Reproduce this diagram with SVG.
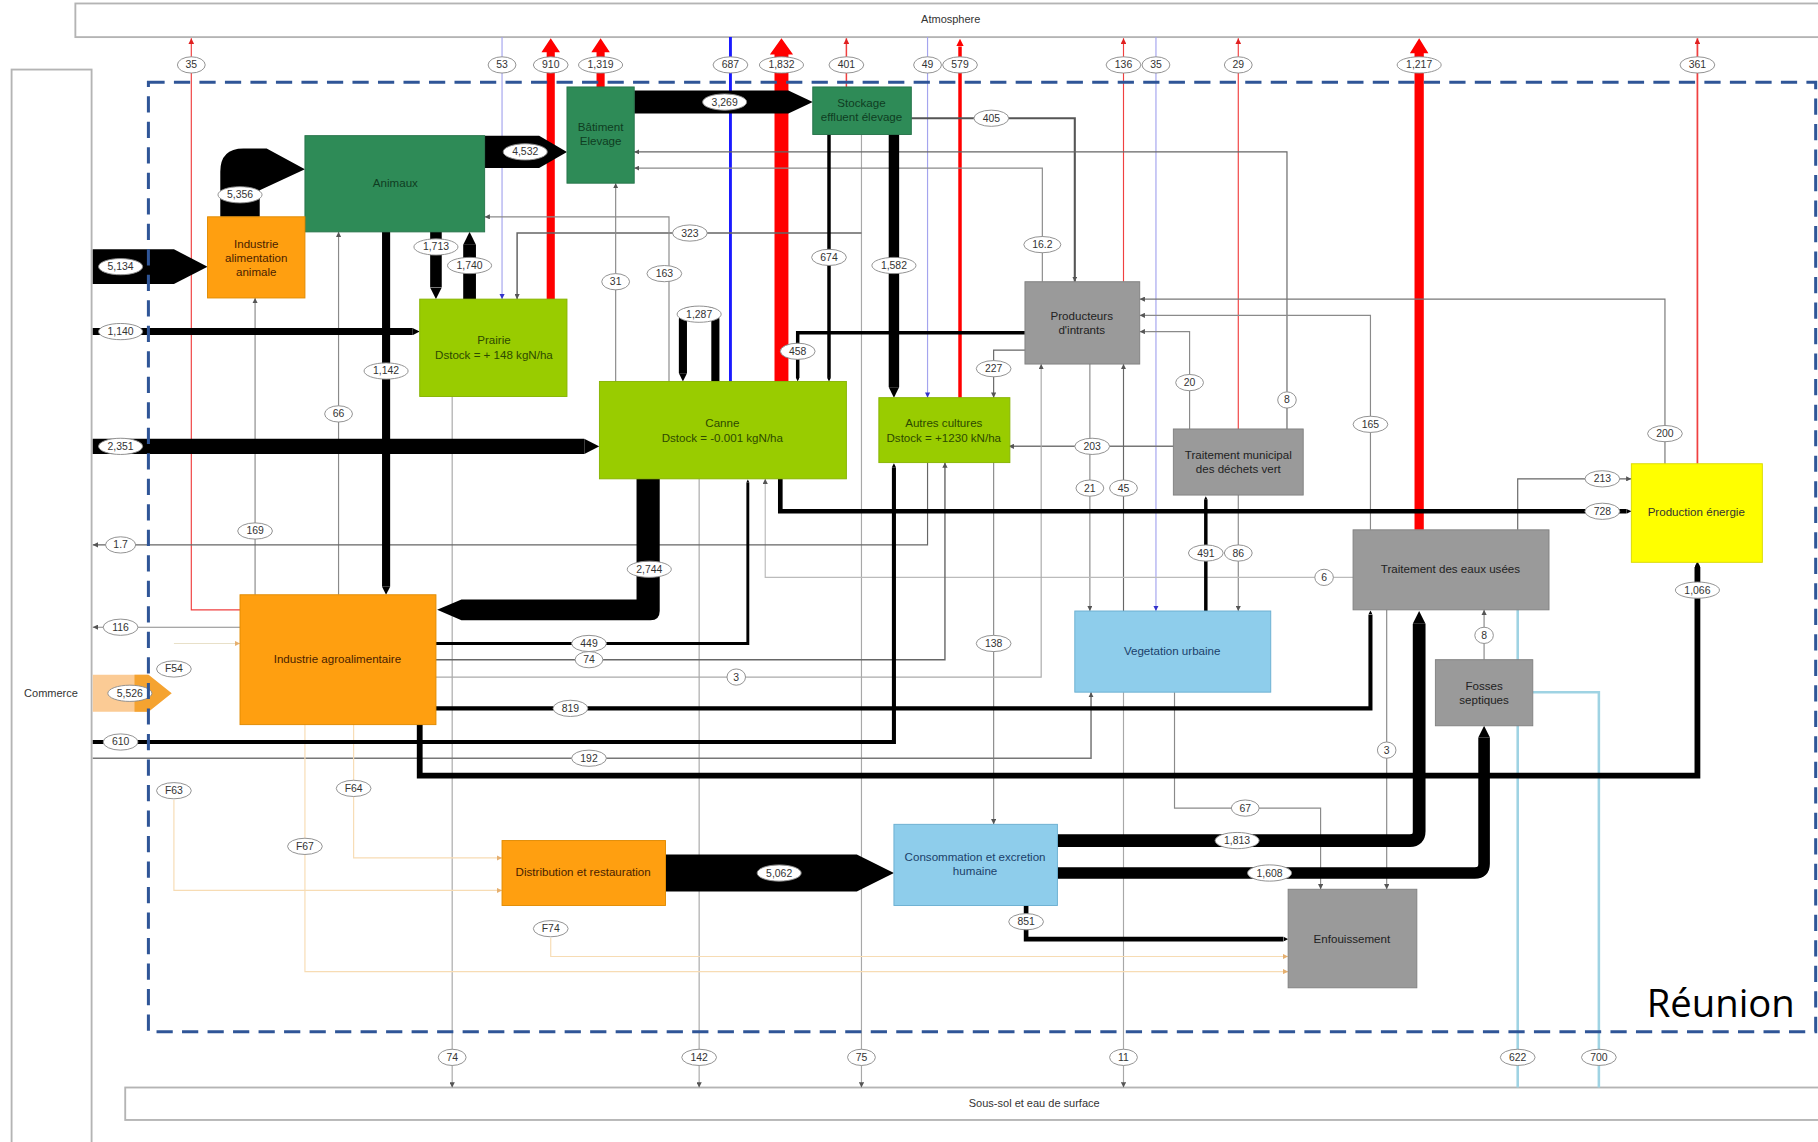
<svg xmlns="http://www.w3.org/2000/svg" width="1818" height="1142" viewBox="0 0 1818 1142">
<style>
.fr{fill:#fff;stroke:#b4b4b4;stroke-width:1.6}
.ft{font:9.5px "Liberation Sans",Arial,sans-serif;text-anchor:middle;fill:#333}
.nd text{font:10px "Liberation Sans",Arial,sans-serif;text-anchor:middle}
.dg rect{fill:#2E8B57;stroke:#26734a;stroke-width:.8}.dg text{fill:#0f3d22}
.lg rect{fill:#99CC00;stroke:#86b300;stroke-width:.8}.lg text{fill:#2d4a00}
.or rect{fill:#FF9F10;stroke:#e08a00;stroke-width:.8}.or text{fill:#4a2200}
.gy rect{fill:#9a9a9a;stroke:#808080;stroke-width:.8}.gy text{fill:#222}
.lb1 rect{fill:#8ECDEB;stroke:#6aaed0;stroke-width:.8}.lb1 text{fill:#1b3f6a}
.ye rect{fill:#FFFF00;stroke:#d9d900;stroke-width:.8}.ye text{fill:#333}
.th{fill:none;stroke:#8a8a8a;stroke-width:1;marker-end:url(#ag)}
.td{fill:none;stroke:#555;stroke-width:1.4;marker-end:url(#ag)}
.bk{fill:none;stroke:#000;marker-end:url(#tp)}
.rt{fill:none;stroke:#f04040;stroke-width:1;marker-end:url(#ar)}
.lv{fill:none;stroke:#a4a4ee;stroke-width:1;marker-end:url(#al)}
.ss{fill:none;stroke:#a8a8a8;stroke-width:1;marker-end:url(#ag)}
.lbw{fill:none;stroke:#9fd3e3;stroke-width:2.2}
.oy{fill:none;stroke:#f7dcb4;stroke-width:1;marker-end:url(#ao)}
.lb ellipse{fill:#fff;stroke:#8a8a8a;stroke-width:.8}
.lb text{font:9px "Liberation Sans",Arial,sans-serif;text-anchor:middle;fill:#333}
</style>
<defs>
<marker id="tp" viewBox="0 0 10 10" refX="0" refY="5" markerWidth="1" markerHeight="1" orient="auto" markerUnits="strokeWidth"><path d="M0,0L10,5L0,10z" fill="#000"/></marker>
<marker id="ag" viewBox="0 0 10 10" refX="10" refY="5" markerWidth="4.5" markerHeight="4.5" orient="auto" markerUnits="userSpaceOnUse"><path d="M0,0L10,5L0,10z" fill="#555"/></marker>
<marker id="ar" viewBox="0 0 10 10" refX="10" refY="5" markerWidth="5" markerHeight="5" orient="auto" markerUnits="userSpaceOnUse"><path d="M0,0L10,5L0,10z" fill="#e02020"/></marker>
<marker id="al" viewBox="0 0 10 10" refX="10" refY="5" markerWidth="4.5" markerHeight="4.5" orient="auto" markerUnits="userSpaceOnUse"><path d="M0,0L10,5L0,10z" fill="#3333cc"/></marker>
<marker id="ao" viewBox="0 0 10 10" refX="10" refY="5" markerWidth="4.5" markerHeight="4.5" orient="auto" markerUnits="userSpaceOnUse"><path d="M0,0L10,5L0,10z" fill="#e6b070"/></marker>
<marker id="tr" viewBox="0 0 10 10" refX="0" refY="5" markerWidth="2.2" markerHeight="2.2" orient="auto" markerUnits="strokeWidth"><path d="M0,0L10,5L0,10z" fill="#f00"/></marker>
</defs>
<rect width="1818" height="1142" fill="#fff"/>
<g transform="scale(1.15944,1.15939)">
<g id="frames">
<rect class="fr" x="65" y="3" width="1520" height="29"/>
<text class="ft" x="820" y="20">Atmosphere</text>
<rect class="fr" x="10" y="60" width="69" height="940"/>
<text class="ft" x="44" y="601">Commerce</text>
<rect class="fr" x="108" y="938" width="1480" height="28"/>
<text class="ft" x="892" y="955">Sous-sol et eau de surface</text>
</g>
<g id="connectors">
<path class="rt" d="M207,526H165V33"/>
<path class="rt" d="M730,75V33" style="stroke-width:1.3"/>
<path class="rt" d="M969,243V33"/>
<path class="rt" d="M1068,370V33"/>
<path class="rt" d="M1464,400V33" style="stroke-width:1.5"/>
<path d="M828,343V40" fill="none" stroke="#f00" stroke-width="3" marker-end="url(#tr)"/>
<path d="M471.5,258V45H467L475,33L483,45H478.5V258Z" fill="#f00"/>
<path d="M514.5,75V45H510L518,33L526,45H521.5V75Z" fill="#f00"/>
<path d="M668,329V47H664L674,33L684,47H680V329Z" fill="#f00"/>
<path d="M1220,457V46H1216L1224,33L1232,46H1228V457Z" fill="#f00"/>
<path d="M630,32V329" fill="none" stroke="#1a1aff" stroke-width="2.5"/>
<path class="lv" d="M433,32V258"/>
<path class="lv" d="M800,32V343"/>
<path class="lv" d="M997,32V527"/>
<path class="ss" d="M390,342V938"/>
<path class="ss" d="M603,413V938"/>
<path class="ss" d="M743,116V938"/>
<path class="ss" d="M969,597V938"/>
<path class="lbw" d="M1309,526V938"/>
<path class="lbw" d="M1322,597H1379V938"/>
<path class="td" d="M786,102H927V243" style="stroke-width:1.8"/>
<path class="th" d="M743,201H446V258" style="stroke:#666;stroke-width:1.3"/>
<path class="th" d="M899,243V145H547"/>
<path class="th" d="M1110,370V131H547" style="stroke:#666"/>
<path class="th" d="M531,329V158"/>
<path class="th" d="M577,329V187H418"/>
<path class="th" d="M292,513V200"/>
<path class="th" d="M220,513V257"/>
<path class="th" d="M884,302H857V343" style="stroke:#666"/>
<path class="th" d="M1012,385H870" style="stroke:#777;stroke-width:1.3"/>
<path class="th" d="M1026,370V286H983"/>
<path class="th" d="M1182,457V272H983"/>
<path class="th" d="M1436,400V258H983" style="stroke:#777"/>
<path class="th" d="M940,314V527"/>
<path class="th" d="M969,527V314" style="stroke:#666"/>
<path class="th" d="M1068,427V527"/>
<path class="th" d="M1309,457V413H1407" style="stroke:#666"/>
<path class="th" d="M1167,498H660V413" style="stroke:#bbb"/>
<path class="th" d="M1280,569V526"/>
<path class="th" d="M1196,526V767"/>
<path class="th" d="M1013,597V697H1139V767"/>
<path class="th" d="M857,399V711"/>
<path class="th" d="M800,399V470H80" style="stroke:#666"/>
<path class="th" d="M207,541H80"/>
<path class="th" d="M376,569H815V399" style="stroke:#666;stroke-width:1.2"/>
<path class="th" d="M376,584H898V314" style="stroke:#aaa"/>
<path class="th" d="M80,654H941V597" style="stroke:#777;stroke-width:1.3"/>
<path class="oy" d="M150,555H207" style="stroke:#e8e0c8"/>
<path class="oy" d="M305,625V740H433"/>
<path class="oy" d="M150,690V768H433"/>
<path class="oy" d="M263,625V838H1111"/>
<path class="oy" d="M475,809V825H1111"/>
<path class="bk" d="M376,200V248" stroke-width="10"/>
<path class="bk" d="M405,258V211" stroke-width="11"/>
<path class="bk" d="M333,200V506" stroke-width="7"/>
<path class="bk" d="M80,286H356" stroke-width="6"/>
<path class="bk" d="M80,385H504" stroke-width="13"/>
<path class="bk" d="M771,116V334" stroke-width="9"/>
<path class="bk" d="M715,116V326" stroke-width="3"/>
<path class="bk" d="M884,287H688V326" stroke-width="3"/>
<path class="bk" d="M617,329V276Q617,268 609,268H597Q589,268 589,276V322" stroke-width="7"/>
<path class="bk" d="M673,413V441H1403" stroke-width="4"/>
<path class="bk" d="M376,555H645V416" stroke-width="2.5"/>
<path class="bk" d="M80,640H771V403" stroke-width="3.5"/>
<path class="bk" d="M376,611H1182V530" stroke-width="3.5"/>
<path class="bk" d="M362,625V669H1464V489" stroke-width="5"/>
<path class="bk" d="M1040,527V431" stroke-width="3"/>
<path class="bk" d="M885,781V810H1107" stroke-width="4"/>
<path class="bk" d="M912,725H1216Q1224,725 1224,717V538" stroke-width="11"/>
<path class="bk" d="M912,753H1272Q1280,753 1280,745V636" stroke-width="10"/>
<polygon points="80,215 150,215 179,230 150,245 80,245"/>
<path d="M190,187V148Q190,128 210,128H230L263,146L224,164V187Z"/>
<polygon points="418,117 465,117 489,131 465,145 418,145"/>
<polygon points="547,78 680,78 701,88 680,98 547,98"/>
<polygon points="574,737 739,737 771,753 739,769 574,769"/>
<path d="M549,413H569V527Q569,535 561,535H398L377,526L398,517H549Z"/>
<polygon points="80,582 128,582 148,598 128,614 80,614" fill="#FBCB95"/>
<polygon points="116,582 128,582 148,598 128,614 116,614" fill="#F5A330"/>
</g>
<g id="animaux" class="nd dg"><rect x="263" y="117" width="155" height="83"/><text x="341" y="161">Animaux</text></g>
<g id="batiment-elevage" class="nd dg"><rect x="489" y="75" width="58" height="83"/><text x="518" y="113">Bâtiment</text><text x="518" y="125">Elevage</text></g>
<g id="stockage-effluent" class="nd dg"><rect x="701" y="75" width="85" height="41"/><text x="743" y="92">Stockage</text><text x="743" y="104">effluent élevage</text></g>
<g id="industrie-alimentation-animale" class="nd or"><rect x="179" y="187" width="84" height="70"/><text x="221" y="214">Industrie</text><text x="221" y="226">alimentation</text><text x="221" y="238">animale</text></g>
<g id="prairie" class="nd lg"><rect x="362" y="258" width="127" height="84"/><text x="426" y="297">Prairie</text><text x="426" y="310">Dstock = + 148 kgN/ha</text></g>
<g id="canne" class="nd lg"><rect x="517" y="329" width="213" height="84"/><text x="623" y="368">Canne</text><text x="623" y="381">Dstock = -0.001 kgN/ha</text></g>
<g id="autres-cultures" class="nd lg"><rect x="758" y="343" width="113" height="56"/><text x="814" y="368">Autres cultures</text><text x="814" y="381">Dstock = +1230 kN/ha</text></g>
<g id="producteurs-intrants" class="nd gy"><rect x="884" y="243" width="99" height="71"/><text x="933" y="276">Producteurs</text><text x="933" y="288">d'intrants</text></g>
<g id="traitement-municipal" class="nd gy"><rect x="1012" y="370" width="112" height="57"/><text x="1068" y="396">Traitement municipal</text><text x="1068" y="408">des déchets vert</text></g>
<g id="production-energie" class="nd ye"><rect x="1407" y="400" width="113" height="85"/><text x="1463" y="445">Production énergie</text></g>
<g id="traitement-eaux-usees" class="nd gy"><rect x="1167" y="457" width="169" height="69"/><text x="1251" y="494">Traitement des eaux usées</text></g>
<g id="vegetation-urbaine" class="nd lb1"><rect x="927" y="527" width="169" height="70"/><text x="1011" y="565">Vegetation urbaine</text></g>
<g id="fosses-septiques" class="nd gy"><rect x="1238" y="569" width="84" height="57"/><text x="1280" y="595">Fosses</text><text x="1280" y="607">septiques</text></g>
<g id="industrie-agroalimentaire" class="nd or"><rect x="207" y="513" width="169" height="112"/><text x="291" y="572">Industrie agroalimentaire</text></g>
<g id="distribution-restauration" class="nd or"><rect x="433" y="725" width="141" height="56"/><text x="503" y="756">Distribution et restauration</text></g>
<g id="consommation-humaine" class="nd lb1"><rect x="771" y="711" width="141" height="70"/><text x="841" y="743">Consommation et excretion</text><text x="841" y="755">humaine</text></g>
<g id="enfouissement" class="nd gy"><rect x="1111" y="767" width="111" height="85"/><text x="1166" y="813">Enfouissement</text></g>
<g id="flow-labels">
<g class="lb" transform="translate(165,56)"><ellipse rx="12" ry="7"/><text y="3">35</text></g>
<g class="lb" transform="translate(433,56)"><ellipse rx="12" ry="7"/><text y="3">53</text></g>
<g class="lb" transform="translate(475,56)"><ellipse rx="15" ry="7"/><text y="3">910</text></g>
<g class="lb" transform="translate(518,56)"><ellipse rx="19" ry="7"/><text y="3">1,319</text></g>
<g class="lb" transform="translate(630,56)"><ellipse rx="15" ry="7"/><text y="3">687</text></g>
<g class="lb" transform="translate(674,56)"><ellipse rx="19" ry="7"/><text y="3">1,832</text></g>
<g class="lb" transform="translate(730,56)"><ellipse rx="15" ry="7"/><text y="3">401</text></g>
<g class="lb" transform="translate(800,56)"><ellipse rx="12" ry="7"/><text y="3">49</text></g>
<g class="lb" transform="translate(828,56)"><ellipse rx="15" ry="7"/><text y="3">579</text></g>
<g class="lb" transform="translate(969,56)"><ellipse rx="15" ry="7"/><text y="3">136</text></g>
<g class="lb" transform="translate(997,56)"><ellipse rx="12" ry="7"/><text y="3">35</text></g>
<g class="lb" transform="translate(1068,56)"><ellipse rx="12" ry="7"/><text y="3">29</text></g>
<g class="lb" transform="translate(1224,56)"><ellipse rx="19" ry="7"/><text y="3">1,217</text></g>
<g class="lb" transform="translate(1464,56)"><ellipse rx="15" ry="7"/><text y="3">361</text></g>
<g class="lb" transform="translate(390,912)"><ellipse rx="12" ry="7"/><text y="3">74</text></g>
<g class="lb" transform="translate(603,912)"><ellipse rx="15" ry="7"/><text y="3">142</text></g>
<g class="lb" transform="translate(743,912)"><ellipse rx="12" ry="7"/><text y="3">75</text></g>
<g class="lb" transform="translate(969,912)"><ellipse rx="12" ry="7"/><text y="3">11</text></g>
<g class="lb" transform="translate(1309,912)"><ellipse rx="15" ry="7"/><text y="3">622</text></g>
<g class="lb" transform="translate(1379,912)"><ellipse rx="15" ry="7"/><text y="3">700</text></g>
<g class="lb" transform="translate(625,88)"><ellipse rx="19" ry="7"/><text y="3">3,269</text></g>
<g class="lb" transform="translate(855,102)"><ellipse rx="15" ry="7"/><text y="3">405</text></g>
<g class="lb" transform="translate(453,131)"><ellipse rx="19" ry="7"/><text y="3">4,532</text></g>
<g class="lb" transform="translate(207,168)"><ellipse rx="19" ry="7"/><text y="3">5,356</text></g>
<g class="lb" transform="translate(376,213)"><ellipse rx="19" ry="7"/><text y="3">1,713</text></g>
<g class="lb" transform="translate(595,201)"><ellipse rx="15" ry="7"/><text y="3">323</text></g>
<g class="lb" transform="translate(899,211)"><ellipse rx="16" ry="7"/><text y="3">16.2</text></g>
<g class="lb" transform="translate(715,222)"><ellipse rx="15" ry="7"/><text y="3">674</text></g>
<g class="lb" transform="translate(771,229)"><ellipse rx="19" ry="7"/><text y="3">1,582</text></g>
<g class="lb" transform="translate(405,229)"><ellipse rx="19" ry="7"/><text y="3">1,740</text></g>
<g class="lb" transform="translate(104,230)"><ellipse rx="19" ry="7"/><text y="3">5,134</text></g>
<g class="lb" transform="translate(531,243)"><ellipse rx="12" ry="7"/><text y="3">31</text></g>
<g class="lb" transform="translate(573,236)"><ellipse rx="15" ry="7"/><text y="3">163</text></g>
<g class="lb" transform="translate(603,271)"><ellipse rx="19" ry="7"/><text y="3">1,287</text></g>
<g class="lb" transform="translate(104,286)"><ellipse rx="19" ry="7"/><text y="3">1,140</text></g>
<g class="lb" transform="translate(688,303)"><ellipse rx="15" ry="7"/><text y="3">458</text></g>
<g class="lb" transform="translate(857,318)"><ellipse rx="15" ry="7"/><text y="3">227</text></g>
<g class="lb" transform="translate(333,320)"><ellipse rx="19" ry="7"/><text y="3">1,142</text></g>
<g class="lb" transform="translate(1026,330)"><ellipse rx="12" ry="7"/><text y="3">20</text></g>
<g class="lb" transform="translate(1110,345)"><ellipse rx="8" ry="7"/><text y="3">8</text></g>
<g class="lb" transform="translate(292,357)"><ellipse rx="12" ry="7"/><text y="3">66</text></g>
<g class="lb" transform="translate(1182,366)"><ellipse rx="15" ry="7"/><text y="3">165</text></g>
<g class="lb" transform="translate(1436,374)"><ellipse rx="15" ry="7"/><text y="3">200</text></g>
<g class="lb" transform="translate(104,385)"><ellipse rx="19" ry="7"/><text y="3">2,351</text></g>
<g class="lb" transform="translate(942,385)"><ellipse rx="15" ry="7"/><text y="3">203</text></g>
<g class="lb" transform="translate(1382,413)"><ellipse rx="15" ry="7"/><text y="3">213</text></g>
<g class="lb" transform="translate(940,421)"><ellipse rx="12" ry="7"/><text y="3">21</text></g>
<g class="lb" transform="translate(969,421)"><ellipse rx="12" ry="7"/><text y="3">45</text></g>
<g class="lb" transform="translate(1382,441)"><ellipse rx="15" ry="7"/><text y="3">728</text></g>
<g class="lb" transform="translate(220,458)"><ellipse rx="15" ry="7"/><text y="3">169</text></g>
<g class="lb" transform="translate(104,470)"><ellipse rx="13" ry="7"/><text y="3">1.7</text></g>
<g class="lb" transform="translate(1040,477)"><ellipse rx="15" ry="7"/><text y="3">491</text></g>
<g class="lb" transform="translate(1068,477)"><ellipse rx="12" ry="7"/><text y="3">86</text></g>
<g class="lb" transform="translate(560,491)"><ellipse rx="19" ry="7"/><text y="3">2,744</text></g>
<g class="lb" transform="translate(1142,498)"><ellipse rx="8" ry="7"/><text y="3">6</text></g>
<g class="lb" transform="translate(1464,509)"><ellipse rx="19" ry="7"/><text y="3">1,066</text></g>
<g class="lb" transform="translate(104,541)"><ellipse rx="15" ry="7"/><text y="3">116</text></g>
<g class="lb" transform="translate(1280,548)"><ellipse rx="8" ry="7"/><text y="3">8</text></g>
<g class="lb" transform="translate(857,555)"><ellipse rx="15" ry="7"/><text y="3">138</text></g>
<g class="lb" transform="translate(508,555)"><ellipse rx="15" ry="7"/><text y="3">449</text></g>
<g class="lb" transform="translate(508,569)"><ellipse rx="12" ry="7"/><text y="3">74</text></g>
<g class="lb" transform="translate(150,577)"><ellipse rx="15" ry="7"/><text y="3">F54</text></g>
<g class="lb" transform="translate(635,584)"><ellipse rx="8" ry="7"/><text y="3">3</text></g>
<g class="lb" transform="translate(112,598)"><ellipse rx="19" ry="7"/><text y="3">5,526</text></g>
<g class="lb" transform="translate(492,611)"><ellipse rx="15" ry="7"/><text y="3">819</text></g>
<g class="lb" transform="translate(104,640)"><ellipse rx="15" ry="7"/><text y="3">610</text></g>
<g class="lb" transform="translate(1196,647)"><ellipse rx="8" ry="7"/><text y="3">3</text></g>
<g class="lb" transform="translate(508,654)"><ellipse rx="15" ry="7"/><text y="3">192</text></g>
<g class="lb" transform="translate(150,682)"><ellipse rx="15" ry="7"/><text y="3">F63</text></g>
<g class="lb" transform="translate(305,680)"><ellipse rx="15" ry="7"/><text y="3">F64</text></g>
<g class="lb" transform="translate(1074,697)"><ellipse rx="12" ry="7"/><text y="3">67</text></g>
<g class="lb" transform="translate(1067,725)"><ellipse rx="19" ry="7"/><text y="3">1,813</text></g>
<g class="lb" transform="translate(263,730)"><ellipse rx="15" ry="7"/><text y="3">F67</text></g>
<g class="lb" transform="translate(1095,753)"><ellipse rx="19" ry="7"/><text y="3">1,608</text></g>
<g class="lb" transform="translate(672,753)"><ellipse rx="19" ry="7"/><text y="3">5,062</text></g>
<g class="lb" transform="translate(885,795)"><ellipse rx="15" ry="7"/><text y="3">851</text></g>
<g class="lb" transform="translate(475,801)"><ellipse rx="15" ry="7"/><text y="3">F74</text></g>
</g>
<g id="region">
<rect x="128" y="71" width="1438" height="819" fill="none" stroke="#2F5597" stroke-width="2.6" stroke-dasharray="14,8"/>
<text x="1548" y="877" text-anchor="end" font-family="'Open Sans','Liberation Sans',sans-serif" font-size="33" fill="#000">Réunion</text>
</g>
</g>
</svg>
